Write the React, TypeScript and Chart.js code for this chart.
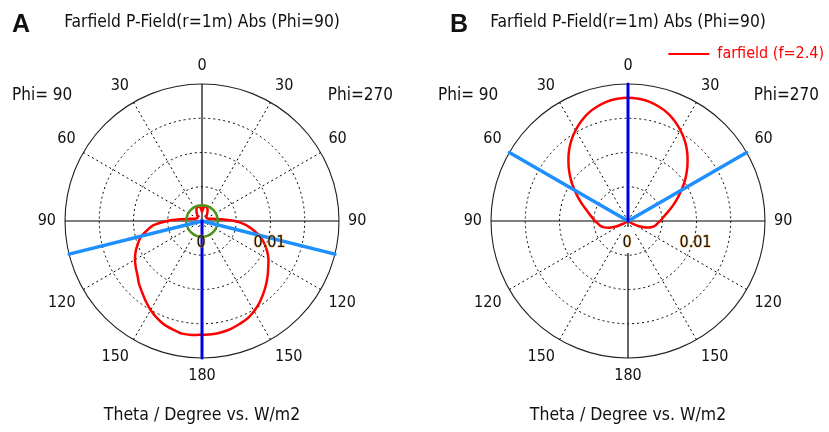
import React, { useEffect, useRef } from 'react';
import { Chart, registerables } from 'chart.js';

Chart.register(...registerables);

const FONT = '"DejaVu Sans Condensed", "DejaVu Sans", sans-serif';

// ---------- data ----------
// polar angle theta (degrees) of the sampled farfield values
const thetaDeg = [0, 5, 10, 15, 20, 25, 30, 35, 40, 45, 50, 55, 60, 65, 70, 75, 80, 85, 90,
  95, 100, 105, 110, 115, 120, 125, 130, 135, 140, 145, 150, 155, 160, 165, 170, 175, 180];

// angle tick labels every 30 degrees, clockwise from the top
const angleTickLabels = ['0', '30', '60', '90', '120', '150', '180', '150', '120', '90', '60', '30'];
// radial rings (W/m2) and the ring labels shown
const radialTicks = [0, 0.005, 0.01, 0.015, 0.02];
const radialTickLabels = [0, 0.01];
const phiLabels = ['Phi= 90', 'Phi=270'];

// Panel A: farfield |P| (W/m2) along theta, right half = Phi 270, left half = Phi 90
const redA_phi270 = [0.0013, 0.0018, 0.0021, 0.0022, 0.0021, 0.0019, 0.0016, 0.0013, 0.0011, 0.0009,
  0.0008, 0.0008, 0.0008, 0.0009, 0.0010, 0.0013, 0.0018, 0.0029, 0.0048, 0.0064, 0.0076, 0.0088,
  0.0097, 0.0105, 0.0112, 0.0118, 0.0125, 0.0132, 0.0139, 0.0146, 0.0152, 0.0157, 0.0160, 0.0163,
  0.0165, 0.0166, 0.0166];
const redA_phi90 = [0.0013, 0.0018, 0.0021, 0.0022, 0.0021, 0.0019, 0.0016, 0.0013, 0.0011, 0.0009,
  0.0008, 0.0008, 0.0008, 0.0009, 0.0010, 0.0013, 0.0018, 0.0030, 0.0051, 0.0071, 0.0082, 0.0093,
  0.0100, 0.0107, 0.0113, 0.0118, 0.0123, 0.0130, 0.0136, 0.0143, 0.0150, 0.0156, 0.0161, 0.0164,
  0.0167, 0.0167, 0.0166];
const greenMarkerRadiusA = 0.0023;
const darkBeamA = [{ phi: 270, theta: 180 }];
const lightBeamA = [{ phi: 270, theta: 104 }, { phi: 90, theta: 104 }];

// Panel B
const redB_phi270 = [0.0180, 0.0179, 0.0177, 0.0173, 0.0168, 0.0161, 0.0153, 0.0144, 0.0134, 0.0123,
  0.0112, 0.0101, 0.0090, 0.0080, 0.0071, 0.0063, 0.0056, 0.0051, 0.0047, 0.0043, 0.0040, 0.0035,
  0.0028, 0.0018, 0.0008, 0.0003, 0.0001, 0, 0, 0, 0, 0, 0, 0, 0, 0, 0];
const redB_phi90 = [0.0180, 0.0179, 0.0177, 0.0173, 0.0168, 0.0161, 0.0153, 0.0144, 0.0134, 0.0123,
  0.0112, 0.0101, 0.0090, 0.0080, 0.0071, 0.0063, 0.0057, 0.0052, 0.0048, 0.0044, 0.0041, 0.0036,
  0.0029, 0.0018, 0.0008, 0.0003, 0.0001, 0, 0, 0, 0, 0, 0, 0, 0, 0, 0];
const darkBeamB = [{ phi: 270, theta: 0 }];
const lightBeamB = [{ phi: 270, theta: 60 }, { phi: 90, theta: 60 }];

const redLabel = 'farfield (f=2.4)';

// ---------- helpers ----------
const N = 360; // one radar category per degree, clockwise from top
const RMIN = radialTicks[0];
const RMAX = radialTicks[radialTicks.length - 1];
const labels = Array.from({ length: N }, (_, i) => (i % 30 === 0 ? angleTickLabels[i / 30] : ''));

const plotIndex = (phi: number, theta: number) => (phi === 270 ? theta : (360 - theta) % 360);

function curveData(right: number[], left: number[]) {
  const d: (number | null)[] = new Array(N).fill(null);
  thetaDeg.forEach((t, k) => {
    d[plotIndex(270, t)] = right[k];
    if (t > 0 && t < 180) d[plotIndex(90, t)] = left[k];
  });
  return d;
}

function beamData(beams: { phi: number; theta: number }[]) {
  const d: (number | null)[] = new Array(N).fill(null);
  const idx = beams.map((b) => plotIndex(b.phi, b.theta)).sort((a, b) => a - b);
  idx.forEach((a, i) => {
    const b = i + 1 < idx.length ? idx[i + 1] : idx[0] + 360;
    d[a] = RMAX;
    d[Math.round((a + b) / 2) % 360] = RMIN; // pass through the origin between rays
  });
  return d;
}

const circleData = (r: number) => labels.map((_, i) => (i % 10 === 0 ? r : null));

const lineBase = {
  fill: false,
  pointRadius: 0,
  pointHoverRadius: 0,
  pointBorderWidth: 2,
  spanGaps: true,
  backgroundColor: 'rgba(0,0,0,0)',
  borderJoinStyle: 'round' as const,
};

const overlayText = {
  id: 'overlayText',
  afterLayout(chart: any, _args: any, opts: any) {
    const lg = chart.legend;
    if (lg && opts.legendShift && chart.options.plugins.legend.display) {
      lg.left += opts.legendShift.x;
      lg.right += opts.legendShift.x;
      lg.top += opts.legendShift.y;
      lg.bottom += opts.legendShift.y;
    }
  },
  beforeDatasetsDraw(chart: any) {
    // white backdrop behind the origin label (hides the axis under it)
    const s = chart.scales.r;
    const ctx = chart.ctx as CanvasRenderingContext2D;
    ctx.save();
    ctx.fillStyle = '#fff';
    ctx.fillRect(s.xCenter - 7, s.yCenter + 6, 13, 26);
    ctx.restore();
  },
  afterDraw(chart: any, _args: any, opts: any) {
    const s = chart.scales.r;
    const ctx = chart.ctx as CanvasRenderingContext2D;
    ctx.save();
    ctx.fillStyle = '#111';
    ctx.textBaseline = 'alphabetic';
    ctx.textAlign = 'left';
    ctx.font = 'bold 25px "Liberation Sans", Arial, sans-serif';
    ctx.fillText(opts.letter, opts.letterX, 32);
    ctx.font = `17px ${FONT}`;
    ctx.fillText(phiLabels[0], s.xCenter - 190, s.yCenter - 121.5);
    ctx.textAlign = 'right';
    ctx.fillText(phiLabels[1], s.xCenter + 191, s.yCenter - 121.5);
    ctx.textAlign = 'center';
    ctx.font = `16px ${FONT}`;
    ctx.lineJoin = 'round';
    radialTickLabels.forEach((v) => {
      const p = s.getPointPositionForValue(90, v);
      const txt = String(v);
      ctx.strokeStyle = 'rgba(255,165,40,0.45)';
      ctx.lineWidth = 1.6;
      ctx.strokeText(txt, p.x - 1, s.yCenter + 26);
      ctx.fillStyle = '#111';
      ctx.fillText(txt, p.x - 1, s.yCenter + 26);
    });
    ctx.restore();
  },
};

function makeConfig(panel: 'A' | 'B'): any {
  const isA = panel === 'A';
  const datasets = isA
    ? [
        { ...lineBase, label: 'beam main', data: beamData(darkBeamA), borderColor: '#0000e6', borderWidth: 3, tension: 0 },
        { ...lineBase, label: 'beam side', data: beamData(lightBeamA), borderColor: '#1e8fff', borderWidth: 3.5, tension: 0 },
        { ...lineBase, label: 'marker', data: circleData(greenMarkerRadiusA), borderColor: '#4b9619', borderWidth: 2.5, tension: 0.4 },
        { ...lineBase, label: redLabel, data: curveData(redA_phi270, redA_phi90), borderColor: '#ff0000', borderWidth: 2.5, tension: 0.3 },
      ]
    : [
        { ...lineBase, label: 'beam main', data: beamData(darkBeamB), borderColor: '#0000e6', borderWidth: 3, tension: 0 },
        { ...lineBase, label: 'beam side', data: beamData(lightBeamB), borderColor: '#1e8fff', borderWidth: 3.5, tension: 0 },
        { ...lineBase, label: redLabel, data: curveData(redB_phi270, redB_phi90), borderColor: '#ff0000', borderWidth: 2.5, tension: 0.3 },
      ];
  return {
    type: 'radar',
    data: { labels, datasets },
    options: {
      responsive: false,
      animation: false,
      events: [],
      layout: { padding: 0 },
      scales: {
        r: {
          min: RMIN,
          max: RMAX,
          startAngle: 0,
          ticks: { display: false, stepSize: radialTicks[1] - radialTicks[0] },
          grid: {
            circular: true,
            color: (c: any) => (c.index === radialTicks.length - 1 ? '#222' : '#000'),
            lineWidth: (c: any) => (c.index === radialTicks.length - 1 ? 1.1 : 1),
          },
          border: { dash: (c: any) => (c.index === radialTicks.length - 1 ? [] : [2, 3]) },
          angleLines: {
            display: true,
            color: '#000',
            lineWidth: (c: any) => (c.index % 90 === 0 ? 1.2 : c.index % 30 === 0 ? 1 : 0),
            borderDash: (c: any) => (c.index % 90 === 0 ? [] : [2, 3]),
          },
          pointLabels: { display: true, padding: 9, color: '#111', font: { family: FONT, size: 16, lineHeight: 1.125 } },
        },
      },
      plugins: {
        title: {
          display: true,
          text: 'Farfield P-Field(r=1m) Abs (Phi=90)',
          color: '#111',
          font: { family: FONT, size: 17.3, weight: 'normal', lineHeight: 1 },
          padding: { top: 14, bottom: isA ? 25.7 : -0.3 },
        },
        subtitle: {
          display: true,
          position: 'bottom',
          text: 'Theta / Degree vs. W/m2',
          color: '#111',
          font: { family: FONT, size: 17.5, weight: 'normal', lineHeight: 1 },
          padding: { top: 21.5, bottom: 8 },
        },
        legend: {
          display: !isA,
          position: 'top',
          align: 'end',
          labels: {
            filter: (item: any) => item.text === redLabel,
            color: '#ff0000',
            font: { family: FONT, size: 16 },
            usePointStyle: true,
            pointStyle: 'line',
            pointStyleWidth: 41,
            padding: 0,
          },
        },
        tooltip: { enabled: false },
        overlayText: { letter: panel, letterX: isA ? 12 : 22, legendShift: { x: -4, y: 15 } },
      },
    },
    plugins: [overlayText],
  };
}

export default function App() {
  const refA = useRef<HTMLCanvasElement>(null);
  const refB = useRef<HTMLCanvasElement>(null);
  useEffect(() => {
    const a = new Chart(refA.current as HTMLCanvasElement, makeConfig('A'));
    const b = new Chart(refB.current as HTMLCanvasElement, makeConfig('B'));
    return () => {
      a.destroy();
      b.destroy();
    };
  }, []);
  return (
    <div style={{ position: 'absolute', left: 0, top: 0, width: 829, height: 432, background: '#fff', overflow: 'hidden' }}>
      <canvas ref={refA} width={404} height={432} style={{ position: 'absolute', left: 0, top: 0 }} />
      <canvas ref={refB} width={400} height={432} style={{ position: 'absolute', left: 428, top: 0 }} />
    </div>
  );
}
